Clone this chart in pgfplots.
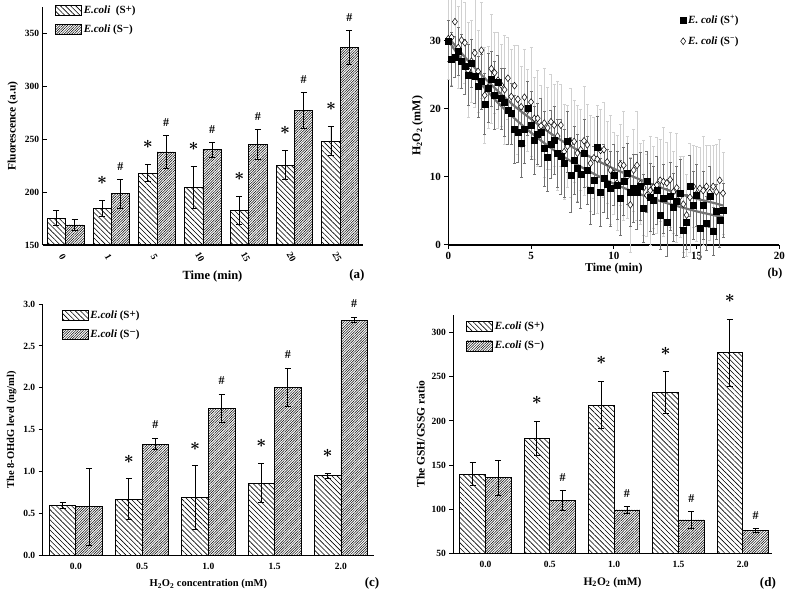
\documentclass[border=0pt]{standalone}
\usepackage{fontspec}
\setmainfont{Liberation Serif}
\usepackage{pgfplots}
\pgfplotsset{compat=1.18}
\usepackage{pgfplotstable}
\usetikzlibrary{patterns.meta}

\tikzset{
 splus/.style={draw=black, line width=0.7pt, pattern={Lines[angle=-45,distance=3.6pt,line width=0.6pt]}},
 sminus/.style={draw=black, line width=0.7pt, pattern={Lines[angle=45,distance=1.8pt,line width=0.5pt]}},
 star/.style={font=\fontsize{19}{19}\selectfont\boldmath, inner sep=0pt},
 hash/.style={font=\fontsize{12}{14}\selectfont\bfseries, inner sep=0pt},
}

\pgfplotsset{
 barax/.style={
  scale only axis, anchor=south west,
  axis x line=bottom, axis y line=left, axis line style={-, line width=1.1pt},
  ybar, bar width=0.4,
  xtick style={draw=none},
  ytick style={line width=1pt, black},
  major tick length=4pt,
  tick label style={font=\fontsize{9.5}{11}\selectfont\bfseries},
  label style={font=\fontsize{11.5}{13}\selectfont\bfseries},
  /pgf/number format/assume math mode=true,
  legend image code/.code={\draw[##1] (0pt,-5pt) rectangle (26pt,5pt);},
  legend style={draw=none, fill=none, anchor=north west, inner sep=0pt, row sep=6pt,
    font=\fontsize{11}{13}\selectfont\bfseries},
  legend cell align=left,
  clip=false,
 },
 eb/.style={error bars/.cd, y dir=both, y explicit,
   error bar style={line width=0.9pt, black},
   error mark options={rotate=90, mark size=3pt, line width=0.9pt, black}},
}

\pgfplotstableread{
x sp esp sm esm
0 175.5 7 169.0 5
1 184.5 7.5 198.4 13.5
2 218.0 8 238.0 15.7
3 204.3 20 240.2 7
4 182.6 13 245.2 14
5 225.6 14 277.2 17
6 248.3 14 336.8 16
}\dataA

\pgfplotstableread{
x sp esp sm esm
0 0.604 0.035 0.584 0.46
1 0.675 0.24 1.331 0.065
2 0.690 0.38 1.756 0.17
3 0.866 0.235 2.006 0.23
4 0.953 0.03 2.805 0.03
}\dataC

\pgfplotstableread{
x sp esp sm esm
0 139.5 13 135.7 20
1 180.3 19 109.7 11
2 218.0 27 99.1 3.5
3 232.0 23.5 87.8 9.5
4 277.3 38 75.7 2.5
}\dataD

\pgfplotstableread{
t y e
0.0 30.0 3
0.2 27.3 4
0.4 27.6 3
0.6 28.5 3.5
0.8 27.0 4
1.0 26.2 4
1.2 25.0 4.5
1.4 26.7 3.5
1.6 24.8 4
1.8 23.3 4.5
2.0 24.0 4
2.2 20.7 4.5
2.4 23.1 5
2.6 24.4 4
2.8 22.0 5
3.0 23.9 4
3.2 21.5 4.5
3.4 21.0 5
3.6 19.8 5
3.8 19.3 4.5
4.0 17.0 5
4.2 16.6 4.5
4.4 14.9 5
4.6 17.0 5
4.8 20.1 4
5.0 17.6 5
5.2 15.4 5
5.4 16.3 4.5
5.6 16.6 5
5.8 14.2 5.5
6.0 12.9 5
6.2 14.8 5
6.4 15.4 5
6.6 13.5 5
6.8 13.0 5.5
7.0 12.0 5
7.2 15.2 4.5
7.4 10.3 5.5
7.6 12.4 5
7.8 11.3 5
8.0 10.4 5
8.2 13.5 5
8.4 11.0 5
8.6 8.1 5
8.8 9.5 5
9.0 14.4 4.5
9.2 7.7 5
9.4 9.8 5
9.6 9.0 5
9.8 8.3 5.5
10.0 10.3 4.5
10.2 8.8 5
10.4 6.9 5.5
10.6 9.4 5
10.8 10.5 4.5
11.0 7.8 5
11.2 8.4 5
11.4 7.8 5.5
11.6 8.6 5
11.8 5.4 5
12.0 9.3 4.5
12.2 7.0 5
12.4 6.6 5
12.6 8.0 5
12.8 4.4 5
13.0 6.8 5
13.2 3.4 5
13.4 7.1 5
13.6 5.6 5
13.8 6.5 5
14.0 7.6 5
14.2 2.2 4
14.4 3.4 4
14.6 8.7 4.5
14.8 5.9 5
15.0 7.3 4.5
15.2 2.4 4.5
15.4 5.9 5
15.6 3.2 4
15.8 7.1 4.5
16.0 2.0 3.5
16.2 4.9 4
16.4 3.7 4
16.6 5.1 4
}\dataBp

\pgfplotstableread{
t y e
0.0 30.3 6
0.2 30.5 7
0.4 32.8 5
0.6 29.0 6
0.8 30.1 7
1.0 29.7 6
1.2 25.7 7
1.4 27.0 6
1.6 28.2 8
1.8 25.5 6
2.0 28.6 7
2.2 22.0 7
2.4 23.2 6
2.6 25.9 8
2.8 25.3 6
3.0 24.2 7
3.2 23.5 6
3.4 22.8 8
3.6 24.5 6
3.8 21.8 7
4.0 23.4 6
4.2 21.4 8
4.4 20.3 6
4.6 21.7 7
4.8 19.8 6
5.0 21.0 8
5.2 18.6 6
5.4 18.6 7
5.6 17.5 6
5.8 17.9 8
6.0 17.2 6
6.2 18.1 7
6.4 17.6 6
6.6 16.0 8
6.8 17.6 6
7.0 13.7 7
7.2 14.5 6
7.4 15.0 8
7.6 15.2 6
7.8 13.5 7
8.0 14.0 6
8.2 15.3 8
8.4 14.7 6
8.6 12.0 7
8.8 12.8 6
9.0 12.6 8
9.2 13.9 6
9.4 14.0 7
9.6 12.2 6
9.8 11.0 8
10.0 10.5 6
10.2 9.1 7
10.4 11.8 6
10.6 11.7 8
10.8 10.0 6
11.0 5.9 7
11.2 11.0 6
11.4 11.7 8
11.6 9.0 6
11.8 8.4 7
12.0 7.3 6
12.2 8.0 8
12.4 8.5 6
12.6 8.8 7
12.8 9.5 6
13.0 9.3 8
13.2 9.1 6
13.4 9.6 7
13.6 7.8 6
13.8 8.4 8
14.0 7.1 6
14.2 6.0 7
14.4 4.4 6
14.6 7.0 8
14.8 8.6 6
15.0 7.5 7
15.2 8.3 6
15.4 8.0 8
15.6 8.6 6
15.8 7.7 7
16.0 8.6 6
16.2 7.8 7
16.4 9.5 6
16.6 7.6 6
}\dataBm

\begin{document}
\begin{tikzpicture}
\useasboundingbox (0pt,0pt) rectangle (787pt,592pt);

% ---------------- (a)
\begin{axis}[barax, at={(42.7pt,347pt)}, width=320.3pt, height=238pt,
 xmin=-0.5, xmax=6.5, ymin=150, ymax=375,
 xtick={0,...,6}, xticklabels={0,1,5,10,15,20,25},
 ytick={150,200,...,350}, tick align=inside,
 xticklabel style={yshift=-12pt, xshift=-3pt, rotate=-60, anchor=center, inner sep=0pt},
 xlabel={Time (min)}, ylabel={Fluorescence (a.u)},
 xlabel style={at={(rel axis cs:0.53,-0.132)}, anchor=center, inner sep=0pt, font=\fontsize{12.5}{14}\selectfont\bfseries},
 legend style={at={(0.038,1.013)}},
 ]
\addplot[splus, bar shift=-0.2, eb] table[x=x, y=sp, y error=esp] {\dataA};
\addlegendentry{\textit{E.coli}\ \ (S\raisebox{0.2ex}{+})}
\addplot[sminus, bar shift=0.2, eb] table[x=x, y=sm, y error=esm] {\dataA};
\addlegendentry{\textit{E.coli} (S\raisebox{0.3ex}{−})}
\node[star] at (axis cs:0.8,192) [yshift=20pt] {$\ast$};
\node[star] at (axis cs:1.8,226) [yshift=20pt] {$\ast$};
\node[star] at (axis cs:2.8,224.3) [yshift=20pt] {$\ast$};
\node[star] at (axis cs:3.8,195.6) [yshift=20pt] {$\ast$};
\node[star] at (axis cs:4.8,239.6) [yshift=20pt] {$\ast$};
\node[star] at (axis cs:5.8,262.3) [yshift=20pt] {$\ast$};
\node[hash] at (axis cs:1.2,211.9) [yshift=13pt] {\#};
\node[hash] at (axis cs:2.2,253.7) [yshift=13pt] {\#};
\node[hash] at (axis cs:3.2,247.2) [yshift=13pt] {\#};
\node[hash] at (axis cs:4.2,259.2) [yshift=13pt] {\#};
\node[hash] at (axis cs:5.2,294.2) [yshift=13pt] {\#};
\node[hash] at (axis cs:6.2,352.8) [yshift=13pt] {\#};
\node[font=\fontsize{13}{15}\selectfont\bfseries] at (rel axis cs:0.981,-0.126) {(a)};
\end{axis}

% ---------------- (b)
\begin{axis}[scale only axis, anchor=south west, at={(448.3pt,347pt)}, width=331pt, height=238.3pt,
 xmin=0, xmax=20, ymin=0, ymax=35,
 axis x line=bottom, axis y line=left, axis line style={-, line width=1.1pt},
 xtick={0,5,10,15,20}, ytick={0,10,20,30}, tick align=outside, major tick length=4pt,
 tick style={line width=1pt, black},
 tick label style={font=\fontsize{11}{13}\selectfont\bfseries},
 label style={font=\fontsize{12}{14}\selectfont\bfseries},
 /pgf/number format/assume math mode=true,
 xlabel={Time (min)}, ylabel={H\textsubscript{2}O\textsubscript{2} (mM)},
 xlabel style={yshift=4pt},
 reverse legend,
 legend style={at={(0.70,0.975)}, anchor=north west, draw=none, fill=none, inner sep=0pt, row sep=8pt,
   font=\fontsize{11}{13}\selectfont\bfseries},
 legend cell align=left,
 clip=false,
 ]
\addplot[only marks, mark=diamond*, mark size=3.4pt, mark options={fill=white, draw=black, line width=0.5pt},
  error bars/.cd, y dir=both, y explicit,
  error bar style={black!18, line width=0.5pt},
  error mark options={rotate=90, black!18, mark size=1.5pt}]
  table[x=t, y=y, y error=e] {\dataBm};
\addlegendentry{\textit{E. coli} (S\textsuperscript{−})}
\addplot[only marks, mark=square*, mark size=3pt, mark options={fill=black, draw=black},
  error bars/.cd, y dir=both, y explicit,
  error bar style={black!55, line width=0.5pt},
  error mark options={rotate=90, black!55, mark size=1.5pt}]
  table[x=t, y=y, y error=e] {\dataBp};
\addlegendentry{\textit{E. coli} (S\textsuperscript{+})}
\addplot[black!55, line width=2.2pt, smooth, forget plot] coordinates {
 (0,30.0) (1,26.6) (2,23.6) (3,20.9) (4,18.6) (5,16.5) (6,14.6) (7,12.9) (8,11.5)
 (9,10.2) (10,9.0) (11,8.0) (12,7.1) (13,6.3) (14,5.6) (15,4.95) (16,4.4) (16.6,4.1)};
\addplot[black!55, line width=2.2pt, smooth, forget plot] coordinates {
 (0,30.5) (1,27.6) (2,25.0) (3,22.6) (4,20.4) (5,18.5) (6,16.7) (7,15.1) (8,13.7)
 (9,12.4) (10,11.2) (11,10.2) (12,9.2) (13,8.3) (14,7.5) (15,6.8) (16,6.2) (16.6,5.8)};
\node[font=\fontsize{12}{14}\selectfont\bfseries] at (rel axis cs:0.987,-0.122) {(b)};
\end{axis}

% ---------------- (c)
\begin{axis}[barax, at={(42.7pt,36.3pt)}, width=331.3pt, height=251.7pt,
 xmin=-0.5, xmax=4.5, ymin=0, ymax=3,
 xtick={0,...,4}, xticklabels={0.0,0.5,1.0,1.5,2.0},
 ytick={0,0.5,...,3}, yticklabels={0.0,0.5,1.0,1.5,2.0,2.5,3.0}, tick align=outside,
 xlabel={H\textsubscript{2}O\textsubscript{2} concentration (mM)}, ylabel={The 8-OHdG level (ng/ml)},
 label style={font=\fontsize{10.5}{12}\selectfont\bfseries},
 xlabel style={yshift=-3pt},
 legend style={at={(0.057,0.983)}},
 ]
\addplot[splus, bar shift=-0.2, eb] table[x=x, y=sp, y error=esp] {\dataC};
\addlegendentry{\textit{E.coli} (S\raisebox{0.2ex}{+})}
\addplot[sminus, bar shift=0.2, eb] table[x=x, y=sm, y error=esm] {\dataC};
\addlegendentry{\textit{E.coli} (S\raisebox{0.3ex}{−})}
\node[star] at (axis cs:0.8,0.915) [yshift=20pt] {$\ast$};
\node[star] at (axis cs:1.8,1.07) [yshift=20pt] {$\ast$};
\node[star] at (axis cs:2.8,1.101) [yshift=20pt] {$\ast$};
\node[star] at (axis cs:3.8,0.983) [yshift=20pt] {$\ast$};
\node[hash] at (axis cs:1.2,1.396) [yshift=14pt] {\#};
\node[hash] at (axis cs:2.2,1.926) [yshift=14pt] {\#};
\node[hash] at (axis cs:3.2,2.236) [yshift=14pt] {\#};
\node[hash] at (axis cs:4.2,2.835) [yshift=14pt] {\#};
\node[font=\fontsize{13}{15}\selectfont\bfseries] at (rel axis cs:0.994,-0.108) {(c)};
\end{axis}

% ---------------- (d)
\begin{axis}[barax, at={(453.3pt,38.7pt)}, width=318.4pt, height=238.3pt,
 xmin=-0.5, xmax=4.45, ymin=50, ymax=320,
 xtick={0,...,4}, xticklabels={0.0,0.5,1.0,1.5,2.0},
 ytick={50,100,...,300}, tick align=outside,
 xlabel={H\textsubscript{2}O\textsubscript{2} (mM)}, ylabel={The GSH/GSSG ratio},
 xlabel style={yshift=-3pt},
 legend style={at={(0.04,0.979)}},
 ]
\addplot[splus, bar shift=-0.2, eb] table[x=x, y=sp, y error=esp] {\dataD};
\addlegendentry{\textit{E.coli} (S\raisebox{0.2ex}{+})}
\addplot[sminus, bar shift=0.2, eb] table[x=x, y=sm, y error=esm] {\dataD};
\addlegendentry{\textit{E.coli} (S\raisebox{0.3ex}{−})}
\node[star] at (axis cs:0.8,199.3) [yshift=21pt] {$\ast$};
\node[star] at (axis cs:1.8,245) [yshift=21pt] {$\ast$};
\node[star] at (axis cs:2.8,255.5) [yshift=21pt] {$\ast$};
\node[star] at (axis cs:3.8,315.3) [yshift=21pt] {$\ast$};
\node[hash] at (axis cs:1.2,120.7) [yshift=13pt] {\#};
\node[hash] at (axis cs:2.2,102.6) [yshift=13pt] {\#};
\node[hash] at (axis cs:3.2,97.3) [yshift=13pt] {\#};
\node[hash] at (axis cs:4.2,78.2) [yshift=13pt] {\#};
\node[font=\fontsize{13}{15}\selectfont\bfseries] at (rel axis cs:0.988,-0.125) {(d)};
\end{axis}
\end{tikzpicture}
\end{document}
